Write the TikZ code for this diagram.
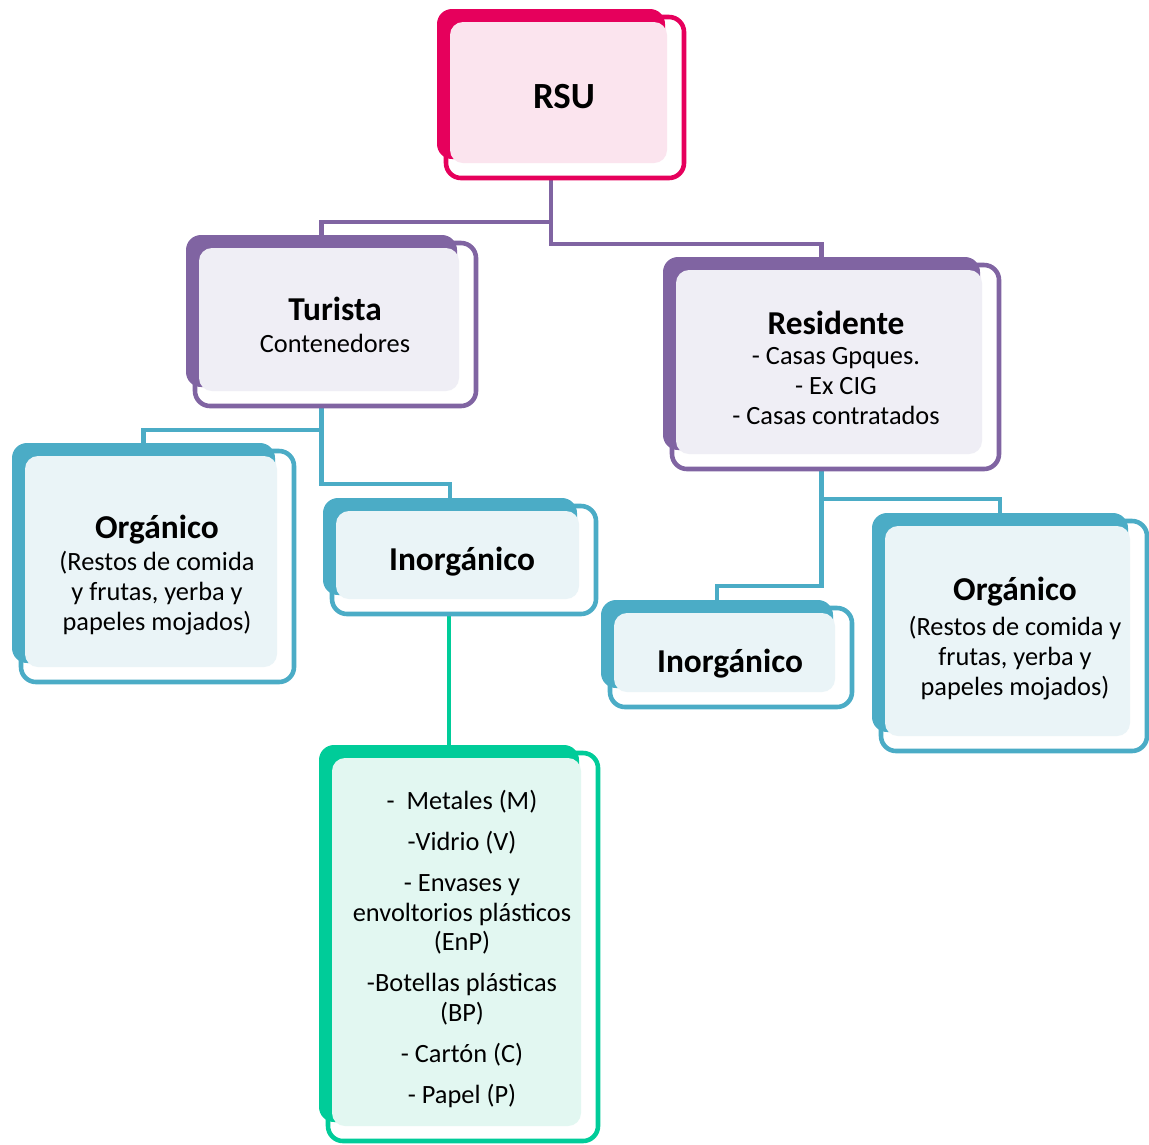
\documentclass[tikz,border=0pt]{standalone}
\usepackage{fontspec}
\setmainfont{Carlito}
\usepackage{tikz}
\usetikzlibrary{
    fit,
    backgrounds
}
\definecolor{rsuMagenta}{RGB}{230,0,92}
\definecolor{SoftPink}{RGB}{251,228,238}
\definecolor{boPurple}{RGB}{128,100,162}
\definecolor{SoftLilac}{RGB}{239,238,245}
\definecolor{boTeal}{RGB}{75,172,198}
\definecolor{SoftTeal}{RGB}{234,244,247}
\definecolor{boGreen}{RGB}{0,204,153}
\definecolor{SoftMint}{RGB}{226,247,241}
\tikzset{
  contorno/.style = {line width=2.6pt, fill=white, rounded corners=0.3cm},
  fondo/.style    = {inner sep=0pt, rounded corners=0.3cm},
  relleno/.style  = {rounded corners=0.26cm},
  titulo/.style   = {anchor=base, inner sep=0pt,
                     font=\fontsize{19}{22}\selectfont\bfseries},
  texto/.style    = {anchor=base, inner sep=0pt, align=center,
                     font=\fontsize{15}{16.8}\selectfont},
  enlace/.style   = {line width=2.3pt}
}
% caja: nombre, esquinas del fondo, color, color claro
\newcommand{\caja}[7]{%
  \draw[contorno, draw=#6] (#2+9,#3+8) rectangle (#4+19,#5+19);
  \node[fondo, fill=#6, fit={(#2,#3) (#4,#5)}] (#1) {};
  \fill[relleno, #7] (#2+13,#3+13) rectangle (#4+2,#5+4);
}

\begin{document}
\begin{tikzpicture}[x=0.02cm, y=-0.02cm]
\useasboundingbox (0,0) rectangle (1149,1144);

\caja{rsu}{437}{9}{665}{159}{rsuMagenta}{SoftPink}
\caja{turista}{186}{235}{457}{387}{boPurple}{SoftLilac}
\caja{residente}{663}{257}{980}{450}{boPurple}{SoftLilac}
\caja{orgT}{12}{443}{275}{663}{boTeal}{SoftTeal}
\caja{inorgT}{323}{498}{577}{595}{boTeal}{SoftTeal}
\caja{inorgR}{601}{600}{833}{688}{boTeal}{SoftTeal}
\caja{orgR}{872}{513}{1128}{732}{boTeal}{SoftTeal}
\caja{lista}{319}{745}{579}{1122}{boGreen}{SoftMint}

% textos (anchor=base = ultima linea)
\node[titulo, font=\fontsize{21}{24}\selectfont\bfseries] (rsu-t) at (564,108) {RSU};
\node[titulo] (turista-t) at (335,320) {Turista};
\node[texto]  (turista-c) at (335,352) {Contenedores};
\node[titulo] (residente-t) at (836,334) {Residente};
\node[texto]  (residente-c) at (836,424) {- Casas Gpques.\\- Ex CIG\\- Casas contratados};
\node[titulo] (orgT-t) at (157,538) {Orgánico};
\node[texto]  (orgT-c) at (157,630) {(Restos de comida\\y frutas, yerba y\\papeles mojados)};
\node[titulo] (inorgT-t) at (462,570) {Inorgánico};
\node[titulo] (inorgR-t) at (730,672) {Inorgánico};
\node[titulo] (orgR-t) at (1015,600) {Orgánico};
\node[texto]  (orgR-c) at (1015,695) {(Restos de comida y\\frutas, yerba y\\papeles mojados)};
\node[texto]  (lista-t) at (462,1103) {-~ Metales (M)\\[6.5pt]-Vidrio (V)\\[6.5pt]- Envases y\\envoltorios plásticos\\(EnP)\\[6.5pt]-Botellas plásticas\\(BP)\\[6.5pt]- Cartón (C)\\[6.5pt]- Papel (P)};

\begin{scope}[on background layer]
\draw[enlace, boPurple] (rsu.south) -- ++(0,63) -| (turista.north);
\draw[enlace, boPurple] (rsu.south) -- ++(0,85) -| (residente.north);
\draw[enlace, boTeal] (turista.south) -- ++(0,43) -| (orgT.north);
\draw[enlace, boTeal] (turista.south) -- ++(0,97) -| (inorgT.north);
\draw[enlace, boTeal] (residente.south) -- ++(0,49) -| (orgR.north);
\draw[enlace, boTeal] (residente.south) -- ++(0,136) -| (inorgR.north);
\draw[enlace, boGreen] (inorgT.south -| lista.north) -- (lista.north);
\end{scope}
\end{tikzpicture}
\end{document}
